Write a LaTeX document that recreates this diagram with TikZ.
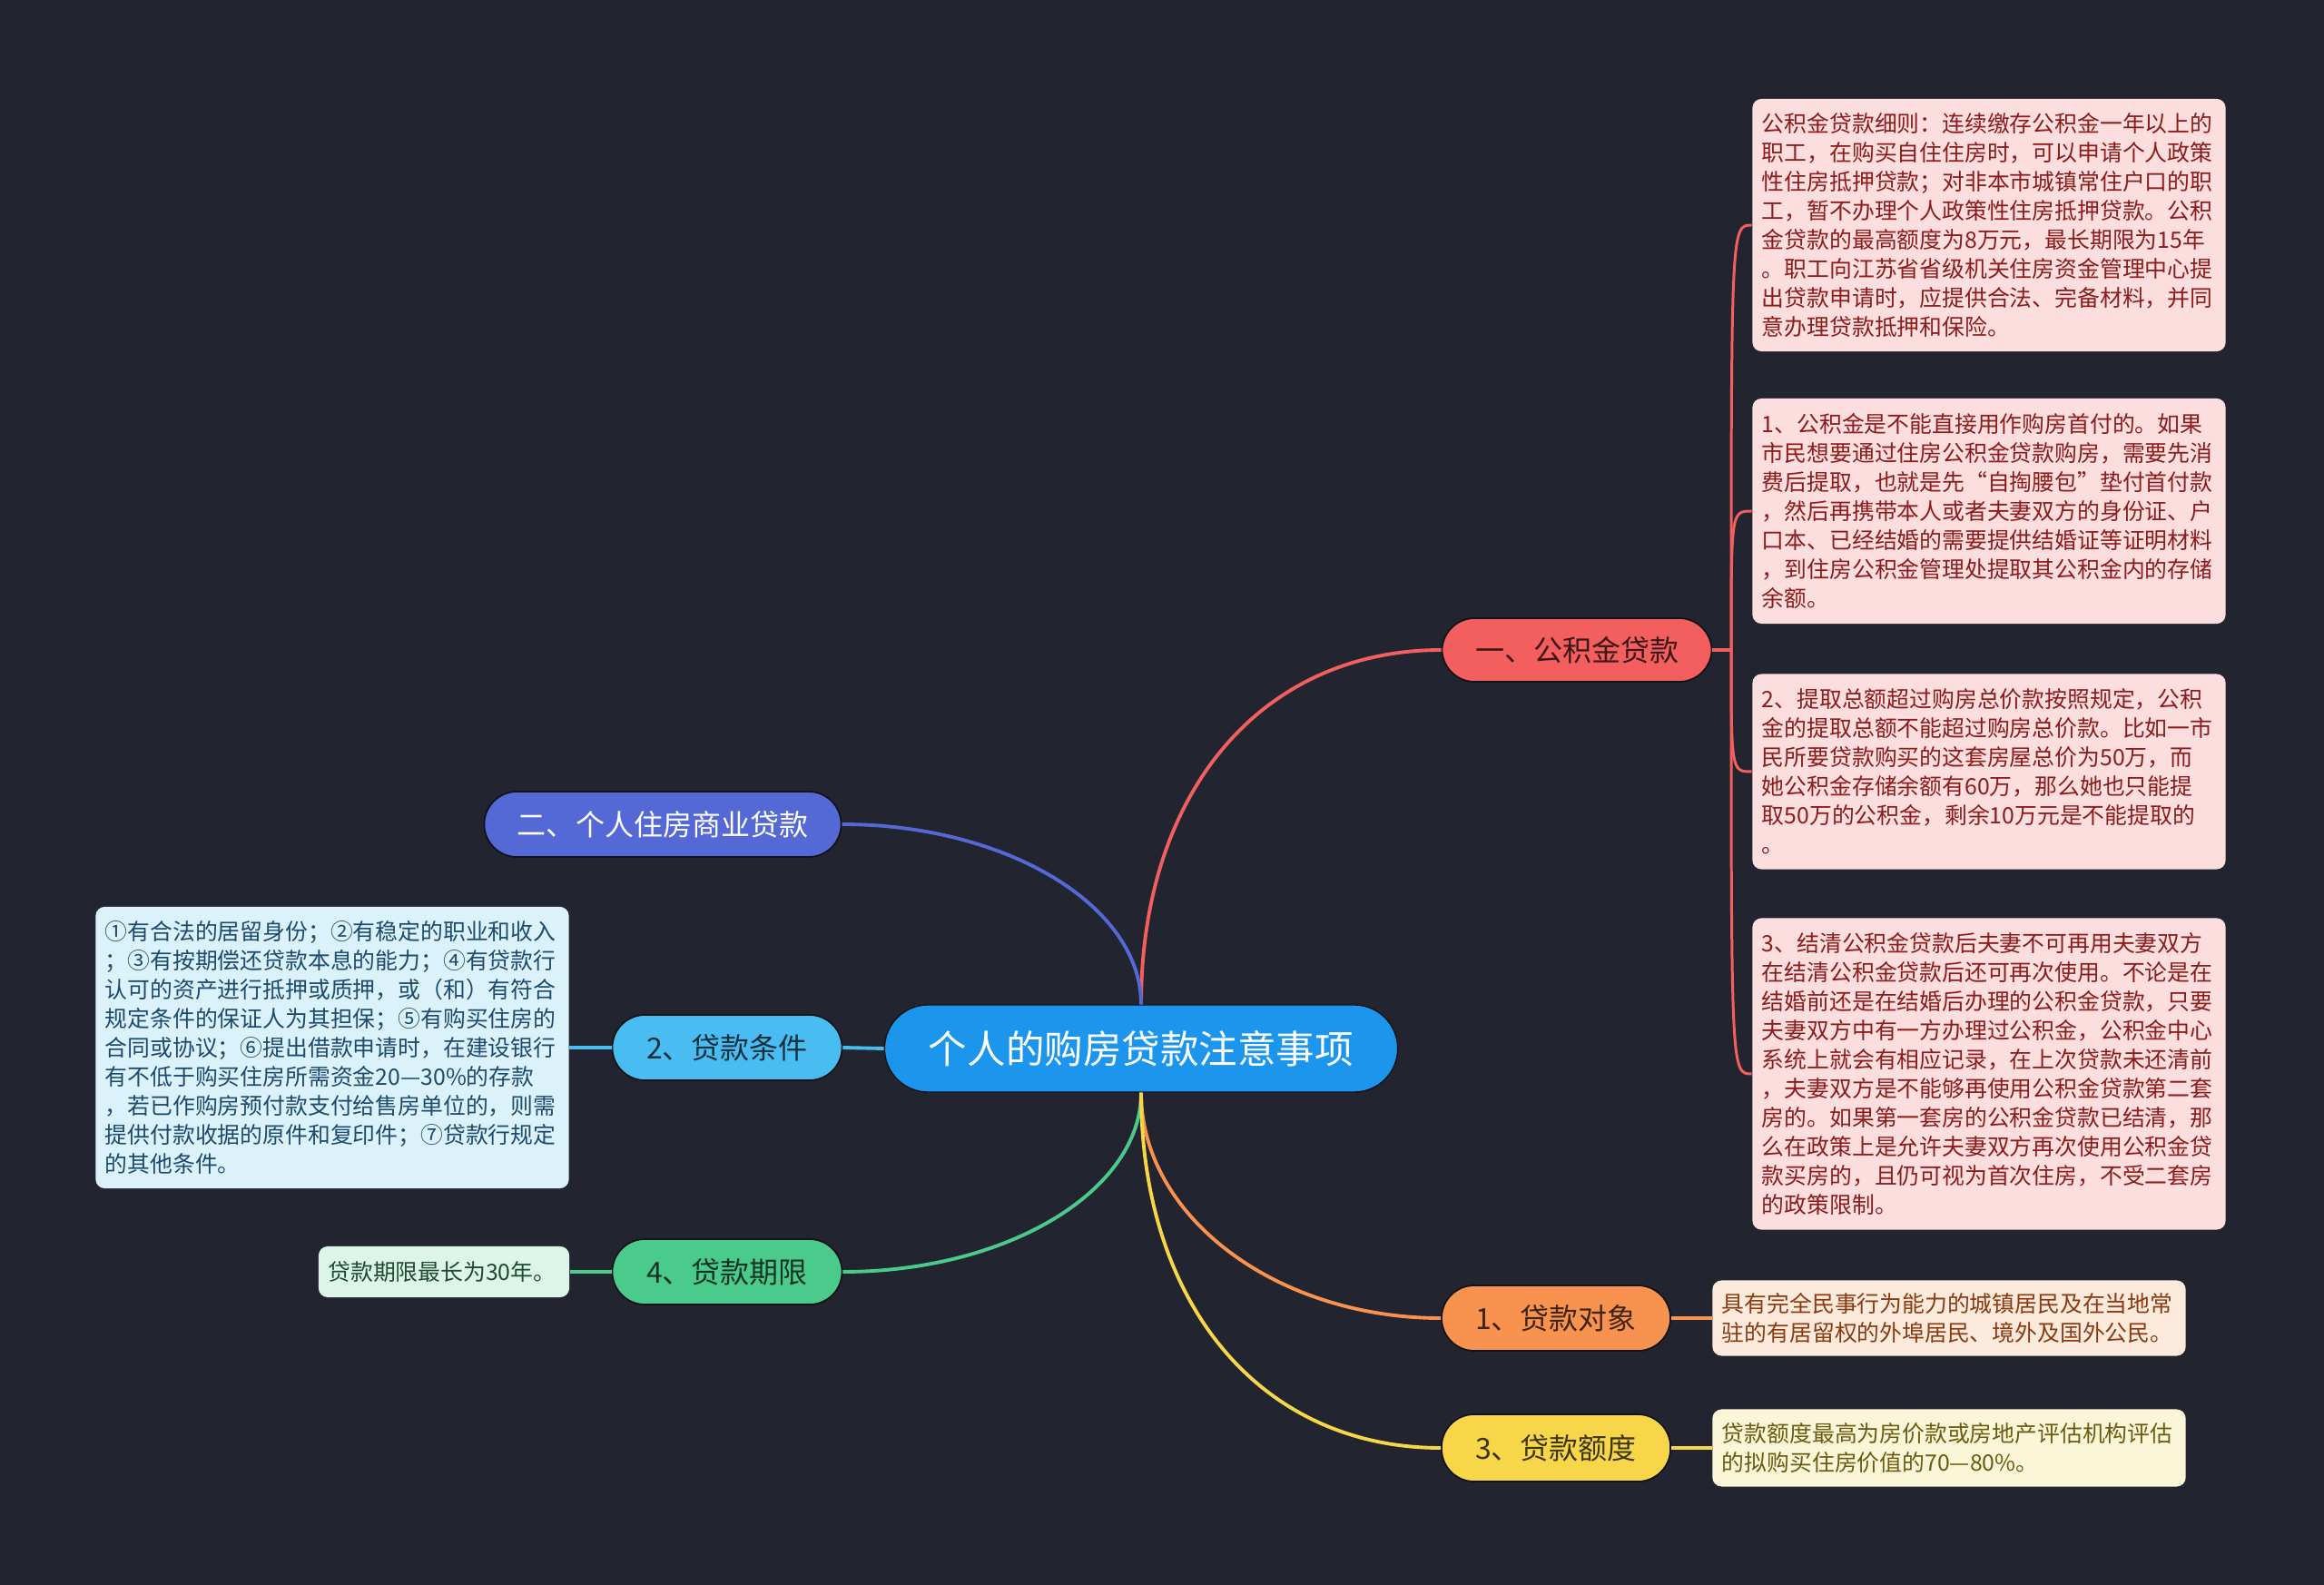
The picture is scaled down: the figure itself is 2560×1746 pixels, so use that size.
\documentclass[tikz,border=0pt]{standalone}
\usepackage{fontspec}
\setmainfont{Noto Sans CJK SC}
\usepackage{xcolor}
\usepackage{tikz}
\definecolor{bgdark}{HTML}{22252F}
\definecolor{rootblue}{HTML}{1C95EC}
\definecolor{cred}{HTML}{F35E5E}
\definecolor{cblue}{HTML}{5468D6}
\definecolor{ccyan}{HTML}{49BDF2}
\definecolor{cgreen}{HTML}{4BCB8B}
\definecolor{corange}{HTML}{F8924F}
\definecolor{cyellow}{HTML}{F8D64A}
\definecolor{redfill}{HTML}{FCDEDE}
\definecolor{redtext}{HTML}{8C1C1C}
\definecolor{cyanfill}{HTML}{DCF2FB}
\definecolor{cyantext}{HTML}{1C4B6E}
\definecolor{greenfill}{HTML}{DDF4E8}
\definecolor{greentext}{HTML}{1E4A33}
\definecolor{orangefill}{HTML}{FCEADC}
\definecolor{orangetext}{HTML}{8A3A10}
\definecolor{yellowfill}{HTML}{FCF6D9}
\definecolor{yellowtext}{HTML}{6B5B10}
\tikzstyle{topic} = [rectangle, rounded corners=0.48cm, minimum width=5.65cm, minimum height=0.96cm, text centered, draw=bgdark!50!black, fill=rootblue, text=white, font=\fontsize{12.1}{14}\selectfont]
\tikzstyle{branch} = [rectangle, rounded corners=0.36cm, minimum height=0.72cm, text centered, draw=bgdark!50!black, line width=0.5pt, font=\fontsize{9.1}{11}\selectfont]
\tikzstyle{leaf} = [rectangle, rounded corners=0.1cm, text width=5cm, align=left, inner xsep=0.105cm, inner ysep=0cm, font=\fontsize{7.06}{9.1}\selectfont]
\tikzstyle{link} = [line width=1.1pt]

\begin{document}
\begin{tikzpicture}[
  x=0.01cm, y=-0.01cm,
  redleaf/.style={leaf, minimum width=5.21cm, fill=redfill, text=redtext},
  leaflink/.style={line width=0.85pt}
]

\fill [bgdark] (0,0) rectangle (2560,1746);

\node (root) [topic] at (1257,1155) {个人的购房贷款注意事项};

\node (b1) [branch, minimum width=2.97cm, minimum height=0.70cm, fill=cred, text=cred!25!black] at (1737,716) {一、公积金贷款};
\node (b2) [branch, minimum width=3.93cm, fill=cblue, text=white] at (730,908) {二、个人住房商业贷款};
\node (b3) [branch, minimum width=2.53cm, fill=ccyan, text=ccyan!25!black] at (801,1154) {2、贷款条件};
\node (b4) [branch, minimum width=2.53cm, fill=cgreen, text=cgreen!25!black] at (801,1401) {4、贷款期限};
\node (b5) [branch, minimum width=2.52cm, fill=corange, text=corange!25!black] at (1714,1452) {1、贷款对象};
\node (b6) [branch, minimum width=2.52cm, minimum height=0.74cm, fill=cyellow, text=cyellow!25!black] at (1714,1595) {3、贷款额度};

\node (l1a) [redleaf, minimum height=2.78cm] at (2191,248) {公积金贷款细则：连续缴存公积金一年以上的\\职工，在购买自住住房时，可以申请个人政策\\性住房抵押贷款；对非本市城镇常住户口的职\\工，暂不办理个人政策性住房抵押贷款。公积\\金贷款的最高额度为8万元，最长期限为15年\\。职工向江苏省省级机关住房资金管理中心提\\出贷款申请时，应提供合法、完备材料，并同\\意办理贷款抵押和保险。};
\node (l1b) [redleaf, minimum height=2.48cm] at (2191,563) {1、公积金是不能直接用作购房首付的。如果\\市民想要通过住房公积金贷款购房，需要先消\\费后提取，也就是先“自掏腰包”垫付首付款\\，然后再携带本人或者夫妻双方的身份证、户\\口本、已经结婚的需要提供结婚证等证明材料\\，到住房公积金管理处提取其公积金内的存储\\余额。};
\node (l1c) [redleaf, minimum height=2.15cm] at (2191,850) {2、提取总额超过购房总价款按照规定，公积\\金的提取总额不能超过购房总价款。比如一市\\民所要贷款购买的这套房屋总价为50万，而\\她公积金存储余额有60万，那么她也只能提\\取50万的公积金，剩余10万元是不能提取的\\。};
\node (l1d) [redleaf, minimum height=3.43cm] at (2191,1183) {3、结清公积金贷款后夫妻不可再用夫妻双方\\在结清公积金贷款后还可再次使用。不论是在\\结婚前还是在结婚后办理的公积金贷款，只要\\夫妻双方中有一方办理过公积金，公积金中心\\系统上就会有相应记录，在上次贷款未还清前\\，夫妻双方是不能够再使用公积金贷款第二套\\房的。如果第一套房的公积金贷款已结清，那\\么在政策上是允许夫妻双方再次使用公积金贷\\款买房的，且仍可视为首次住房，不受二套房\\的政策限制。};

\node (l3) [leaf, minimum width=5.21cm, minimum height=3.10cm, fill=cyanfill, text=cyantext] at (366,1154) {①有合法的居留身份；②有稳定的职业和收入\\；③有按期偿还贷款本息的能力；④有贷款行\\认可的资产进行抵押或质押，或（和）有符合\\规定条件的保证人为其担保；⑤有购买住房的\\合同或协议；⑥提出借款申请时，在建设银行\\有不低于购买住房所需资金20—30\%的存款\\，若已作购房预付款支付给售房单位的，则需\\提供付款收据的原件和复印件；⑦贷款行规定\\的其他条件。};
\node (l4) [leaf, text width=2.55cm, minimum width=2.76cm, minimum height=0.56cm, fill=greenfill, text=greentext] at (489,1401) {贷款期限最长为30年。};
\node (l5) [leaf, minimum width=5.20cm, minimum height=0.83cm, fill=orangefill, text=orangetext] at (2147,1452) {具有完全民事行为能力的城镇居民及在当地常\\驻的有居留权的外埠居民、境外及国外公民。};
\node (l6) [leaf, minimum width=5.20cm, minimum height=0.85cm, fill=yellowfill, text=yellowtext] at (2147,1595) {贷款额度最高为房价款或房地产评估机构评估\\的拟购买住房价值的70—80\%。};

\coordinate (s1) at (1907,716);

\draw [link, cred] (root.north) .. controls (1257,872) and (1390,716) .. (b1.west);
\draw [link, cblue] (root.north) .. controls (1257,998) and (1109,908) .. (b2.east);
\draw [link, ccyan] (b3.east) -- (root.west);
\draw [link, cgreen] (root.south) .. controls (1257,1312) and (1109,1401) .. (b4.east);
\draw [link, corange] (root.south) .. controls (1257,1340) and (1406,1452) .. (b5.west);
\draw [link, cyellow] (root.south) .. controls (1257,1438) and (1390,1595) .. (b6.west);

\draw [link, cred] (b1.east) -- (s1);
\draw [leaflink, cred] (s1) .. controls (s1 |- l1a.west) .. (l1a.west);
\draw [leaflink, cred] (s1) .. controls (s1 |- l1b.west) .. (l1b.west);
\draw [leaflink, cred] (s1) .. controls (s1 |- l1c.west) .. (l1c.west);
\draw [leaflink, cred] (s1) .. controls (s1 |- l1d.west) .. (l1d.west);
\draw [link, ccyan] (b3.west) -- (l3.east);
\draw [link, cgreen] (b4.west) -- (l4.east);
\draw [link, corange] (b5.east) -- (l5.west);
\draw [link, cyellow] (b6.east) -- (l6.west);

\end{tikzpicture}
\end{document}
